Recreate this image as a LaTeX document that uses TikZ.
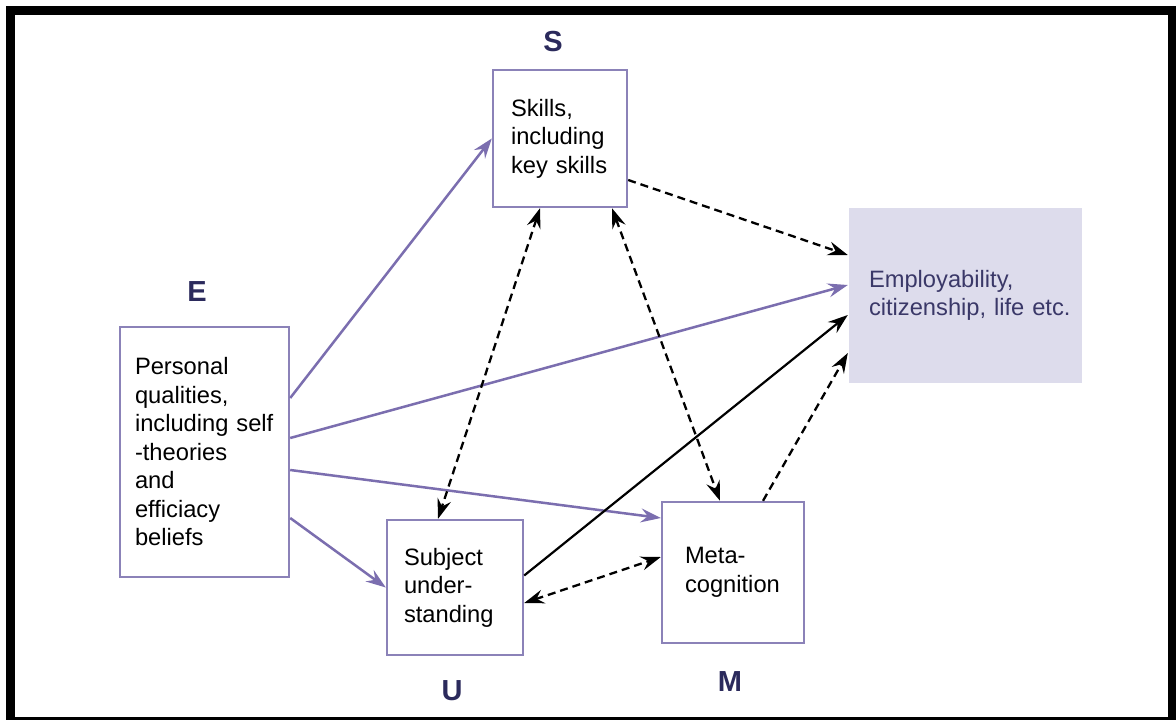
\documentclass[tikz,border=0pt]{standalone}
\usepackage{fontspec}
\setmainfont{Liberation Sans}
\usetikzlibrary{arrows.meta}
\definecolor{boxc}{HTML}{8B82B8}
\definecolor{purp}{HTML}{7B6EAF}
\definecolor{navy}{HTML}{2B2A5C}
\definecolor{empfill}{HTML}{DDDCEC}
\definecolor{emptext}{HTML}{3A3868}
\begin{document}
\begin{tikzpicture}[x=1pt,y=-1pt,
  box/.style={draw=boxc, line width=2.4pt, fill=white, align=left, inner ysep=0pt,
    font=\fontsize{23.7}{28.5}\selectfont, anchor=center},
  lbl/.style={font=\fontsize{29}{30}\selectfont\bfseries, text=navy, inner sep=0pt},
  parr/.style={draw=purp, line width=2.5pt, -{Stealth[length=20pt,width=14pt,inset=7pt]}},
  darr/.style={draw=black, line width=2.3pt, dash pattern=on 8pt off 5pt, -{Stealth[length=20pt,width=14pt,inset=7pt]}},
  ddarr/.style={draw=black, line width=2.3pt, dash pattern=on 8pt off 5pt, {Stealth[length=20pt,width=14pt,inset=7pt]}-{Stealth[length=20pt,width=14pt,inset=7pt]}},
  sarr/.style={draw=black, line width=2.2pt, -{Stealth[length=20pt,width=14pt,inset=7pt]}}
]
\useasboundingbox (0,0) rectangle (1176,720);
\fill[white] (0,0) rectangle (1176,720);
\fill[black] (6,6) rectangle (1176,720);
\fill[white] (15,15) rectangle (1167.5,717);

% boxes
\node[box, inner xsep=15pt, text width=139pt, minimum height=250pt] (E) at (204.5,452)
  {Personal\\qualities,\\including self\\-theories\\and\\efficiacy\\beliefs};
\node[box, inner xsep=18pt, text width=98pt, minimum height=137pt] (S) at (560,138.5)
  {Skills,\\including\\key skills};
\node[box, inner xsep=17pt, text width=102pt, minimum height=135pt] (U) at (455,587.5)
  {Subject\\under-\\standing};
\node[box, inner xsep=23pt, text width=96pt, minimum height=141pt] (M) at (733,572.5)
  {Meta-\\cognition};
\node[box, draw=none, fill=empfill, text=emptext, inner xsep=20pt, text width=193pt, minimum height=175pt] (Emp) at (965.5,295.5)
  {\mbox{Employability,}\\\mbox{citizenship, life etc.}};

% labels
\node[lbl] (lS) at (553,42) {S};
\node[lbl] (lE) at (197,292) {E};
\node[lbl] (lU) at (452,691) {U};
\node[lbl] (lM) at (730,682) {M};

% connectors
\draw[parr] ([yshift=54pt]E.east) -- (S.west);
\draw[parr] ([yshift=14pt]E.east) -- ([yshift=10.5pt]Emp.west);
\draw[parr] ([yshift=-18pt]E.east) -- ([yshift=54.5pt]M.west);
\draw[parr] ([yshift=-66pt]E.east) -- (U.west);
\draw[darr] ([yshift=-41.5pt]S.east) -- ([yshift=40.5pt]Emp.west);
\draw[ddarr] ([xshift=-20pt]S.south) -- ([xshift=-17pt]U.north);
\draw[ddarr] ([xshift=52pt]S.south) -- ([xshift=-13pt]M.north);
\draw[sarr] ([yshift=12pt]U.east) -- ([yshift=-19.5pt]Emp.west);
\draw[darr] ([xshift=30pt]M.north) -- ([yshift=-57.5pt]Emp.west);
\draw[ddarr] ([yshift=-15.5pt]U.east) -- ([yshift=15.5pt]M.west);
\end{tikzpicture}
\end{document}
